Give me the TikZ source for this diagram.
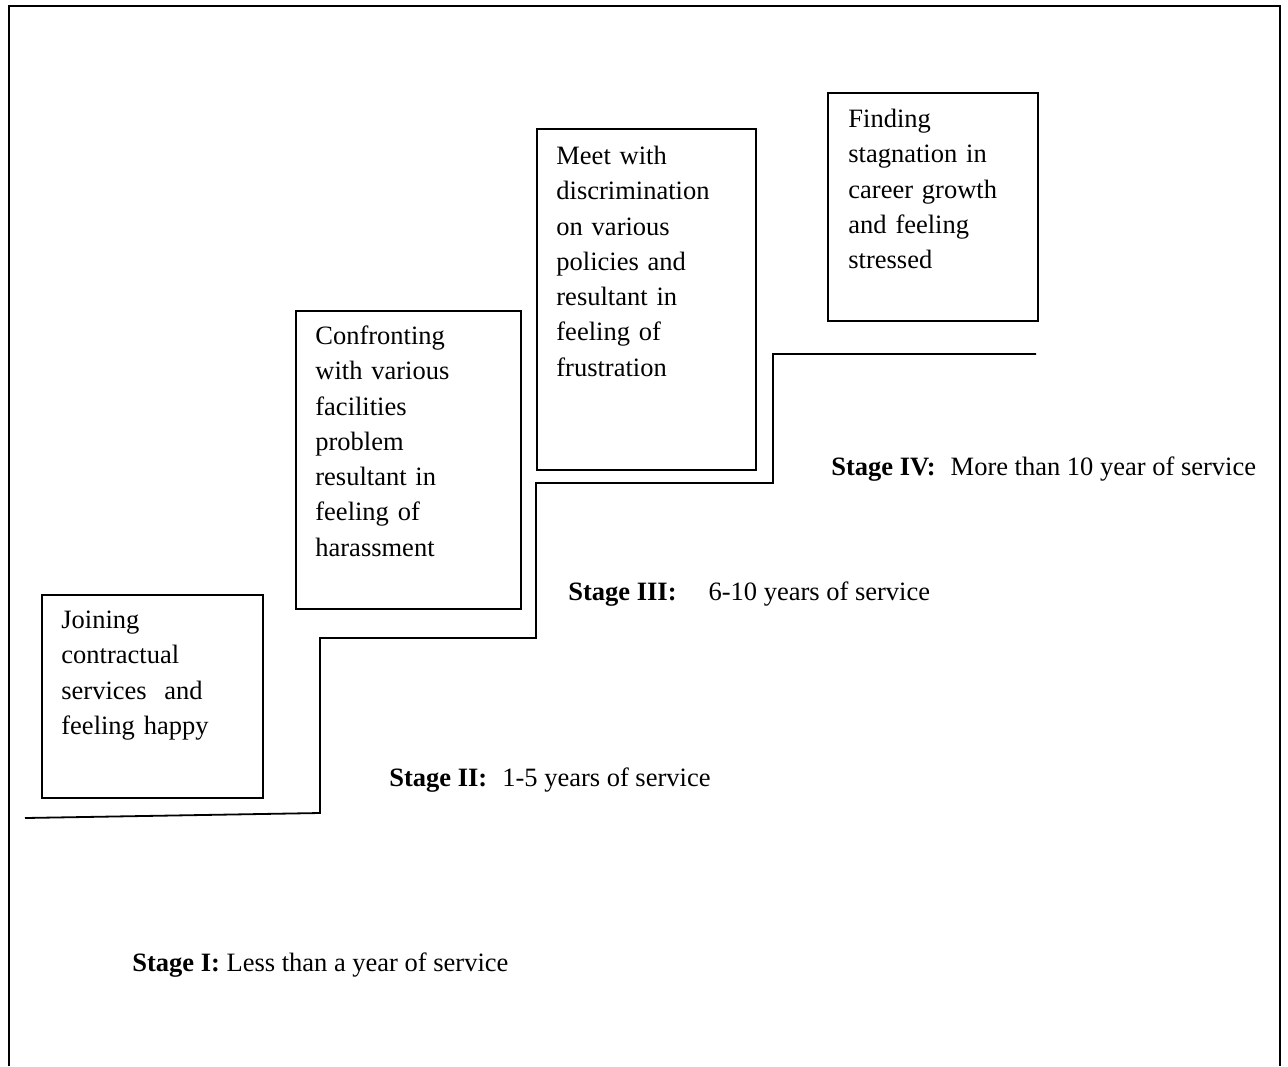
\documentclass[tikz,border=0pt]{standalone}
\usepackage{fontspec}
\setmainfont{Liberation Serif}
\usetikzlibrary{positioning}

\tikzset{
  stagebox/.style={draw, line width=0.8pt, anchor=north west, inner sep=0pt},
  boxtext/.style={inner sep=0pt, align=left, text width=98pt,
    font=\fontsize{13.25}{17.65}\selectfont},
  stagetext/.style={inner sep=0pt, anchor=base west,
    font=\fontsize{13.25}{15}\selectfont},
  stairline/.style={line width=0.9pt},
}
\newcommand{\firstln}{\rule{0pt}{10pt}}

\begin{document}
\begin{tikzpicture}[x=0.5pt, y=-0.5pt]
        \useasboundingbox (0,0) rectangle (1288,1066);
        % Open outer frame
        \draw[line width=1.2pt] (9,1066) -- (9,6) -- (1280,6) -- (1280,1066);

        % Boxes for the stages
        \node[stagebox, minimum width=110.5pt, minimum height=101.5pt] (joinbox) at (41,594) {};
        \node[stagebox, minimum width=112.5pt, minimum height=149pt] (confbox) at (295,310) {};
        \node[stagebox, minimum width=109.5pt, minimum height=170.5pt] (meetbox) at (536,128) {};
        \node[stagebox, minimum width=105pt, minimum height=114pt] (findbox) at (827,92) {};

        % Texts inside the boxes
        \node[boxtext, below right=7pt and 10pt of joinbox.north west] (jointext)
          {\firstln Joining\\ contractual\\ services\ \ and\\ feeling happy};
        \node[boxtext, below right=7pt and 10pt of confbox.north west] (conftext)
          {\firstln Confronting\\ with various\\ facilities\\ problem\\ resultant in\\ feeling of\\ harassment};
        \node[boxtext, below right=8pt and 10pt of meetbox.north west] (meettext)
          {\firstln Meet with\\ discrimination\\ on various\\ policies and\\ resultant in\\ feeling of\\ frustration};
        \node[boxtext, below right=7.5pt and 10.5pt of findbox.north west] (findtext)
          {\firstln Finding\\ stagnation in\\ career growth\\ and feeling\\ stressed};

        % Steps
        \draw[stairline] (25,818) -- (320,813) -- (320,638) -- (536,638)
          -- (536,483) -- (773,483) -- (773,354) -- (1036,354);

        % Stage labels
        \node[stagetext] (stageone) at (132,971) {\textbf{Stage I:} Less than a year of service};
        \node[stagetext] (stagetwo) at (389,786) {\textbf{Stage II:}\hspace{7.5pt}1-5 years of service};
        \node[stagetext] (stagethree) at (568,600) {\textbf{Stage III:}\hspace{16pt}6-10 years of service};
        \node[stagetext] (stagefour) at (831,475) {\textbf{Stage IV:}\hspace{7.5pt}More than 10 year of service};
    \end{tikzpicture}
\end{document}
